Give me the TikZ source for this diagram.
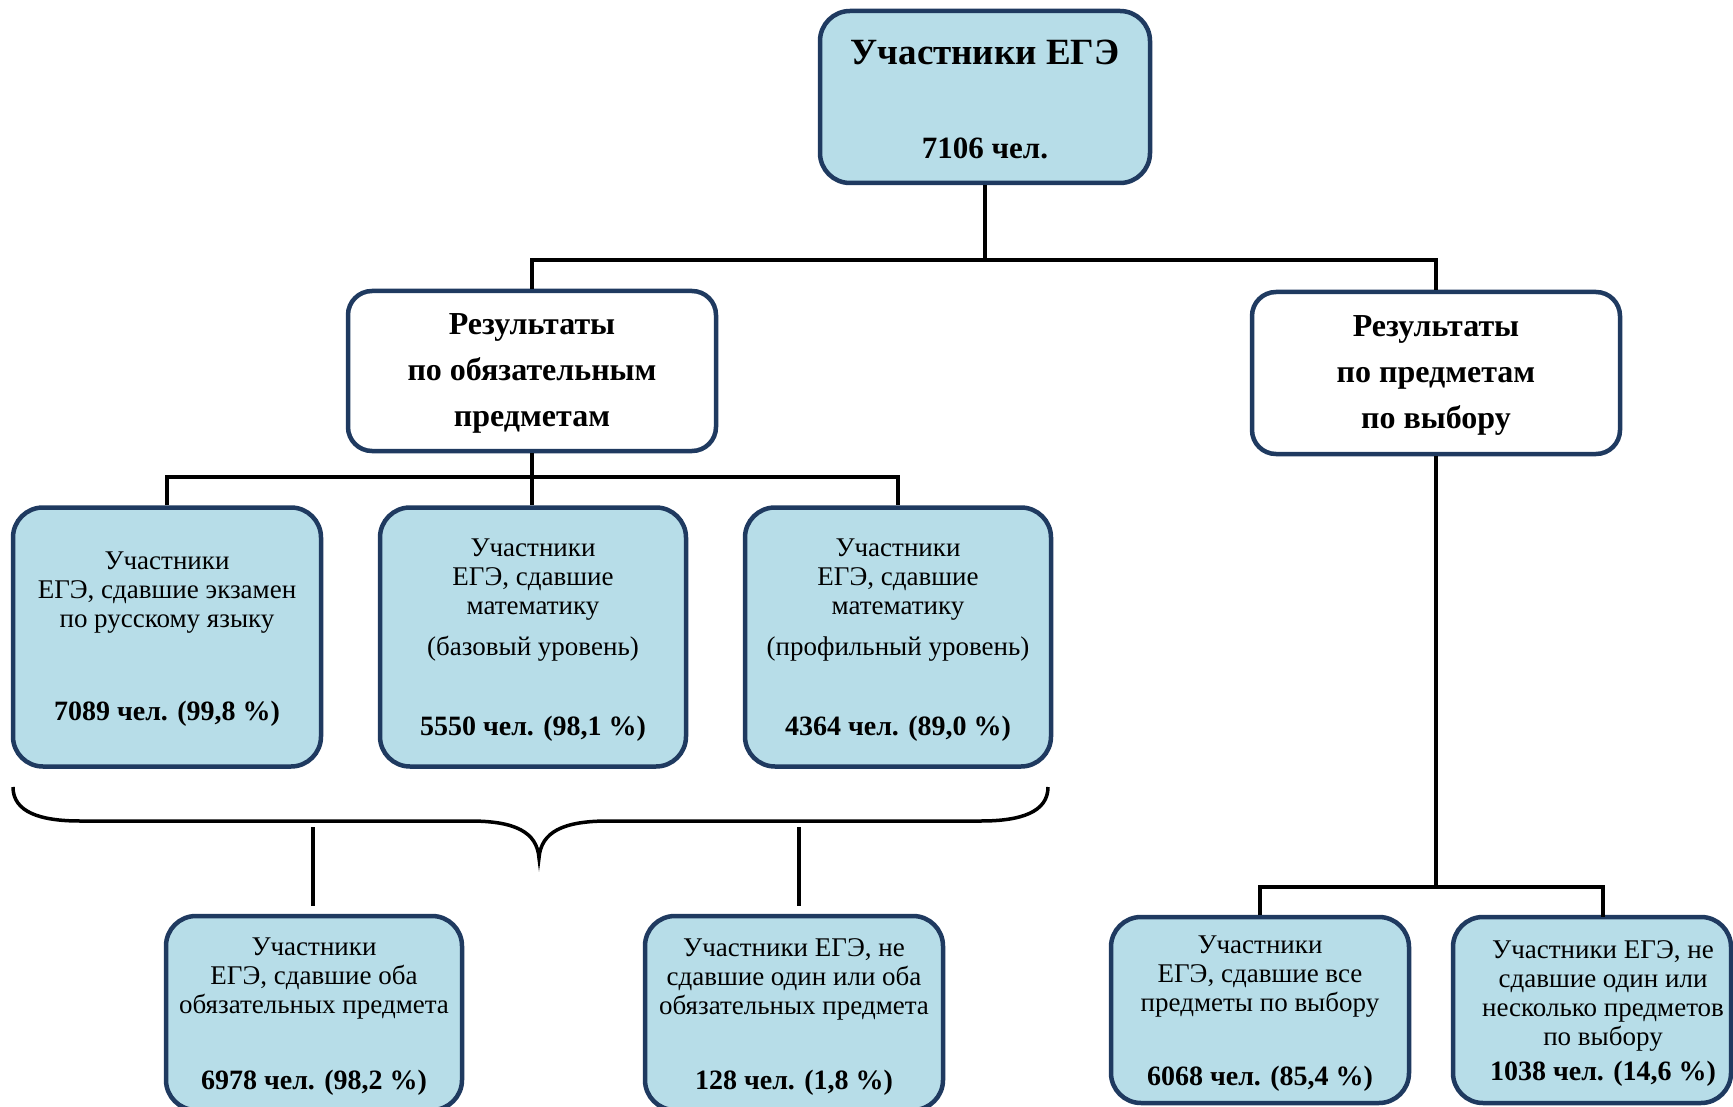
\documentclass[tikz,border=0pt]{standalone}
\usepackage{fontspec}
\setmainfont{Liberation Serif}
\definecolor{boxfill}{HTML}{B7DDE8}
\definecolor{boxline}{HTML}{1F3A60}
\tikzset{
  bluebox/.style={draw=boxline, line width=4.5pt, fill=boxfill, rounded corners=30pt, inner sep=0pt},
  whitebox/.style={draw=boxline, line width=4.5pt, fill=white, rounded corners=24pt, inner sep=0pt},
  link/.style={line width=4.2pt, draw=black},
  bracelink/.style={line width=3.5pt, draw=black},
  txt/.style={align=center, font=\fontsize{27}{29}\selectfont, inner sep=0pt, yshift=-4pt},
  num/.style={font=\fontsize{28}{30}\selectfont\bfseries, inner sep=0pt, yshift=-4pt},
  head/.style={align=center, font=\fontsize{32}{46}\selectfont\bfseries, inner sep=0pt, yshift=-3pt},
}
\begin{document}
\begin{tikzpicture}[x=1pt,y=-1pt]
\useasboundingbox (0,0) rectangle (1733,1107);
\clip (0,0) rectangle (1733,1107);

% boxes
\node[bluebox, minimum width=330pt, minimum height=172pt] (top) at (985,97) {};
\node[whitebox, minimum width=368pt, minimum height=160pt] (midL) at (532,371) {};
\node[whitebox, minimum width=368pt, minimum height=162pt] (midR) at (1436,373) {};
\node[bluebox, minimum width=308pt, minimum height=259pt] (b1) at (167,637) {};
\node[bluebox, minimum width=306pt, minimum height=259pt] (b2) at (533,637) {};
\node[bluebox, minimum width=306pt, minimum height=259pt] (b3) at (898,637) {};
\node[bluebox, minimum width=296pt, minimum height=194pt] (b4) at (314,1013) {};
\node[bluebox, minimum width=298pt, minimum height=194pt] (b5) at (794,1013) {};
\node[bluebox, minimum width=298pt, minimum height=186pt] (b6) at (1260,1010) {};
\node[bluebox, minimum width=278pt, minimum height=186pt] (b7) at (1592,1010) {};

% texts
\node[font=\fontsize{37}{40}\selectfont\bfseries, inner sep=0pt] (t0a) at (985,52) {Участники ЕГЭ};
\node[font=\fontsize{31}{34}\selectfont\bfseries, inner sep=0pt] (t0b) at (985,148) {7106 чел.};

\node[head] (tL) at (532,370) {Результаты\\по обязательным\\предметам};
\node[head] (tR) at (1436,372) {Результаты\\по предметам\\по выбору};

\node[txt] (t1) at (167,589) {Участники\\ЕГЭ, сдавшие экзамен\\по русскому языку};
\node[num] (n1) at (167,710) {7089 чел. (99,8 \%)};

\node[txt] (t2) at (533,576) {Участники\\ЕГЭ, сдавшие\\математику};
\node[txt] (t2b) at (533,645) {(базовый уровень)};
\node[num] (n2) at (533,725) {5550 чел. (98,1 \%)};

\node[txt] (t3) at (898,576) {Участники\\ЕГЭ, сдавшие\\математику};
\node[txt] (t3b) at (898,645) {(профильный уровень)};
\node[num] (n3) at (898,725) {4364 чел. (89,0 \%)};

\node[txt] (t4) at (314,975) {Участники\\ЕГЭ, сдавшие оба\\обязательных предмета};
\node[num] (n4) at (314,1079) {6978 чел. (98,2 \%)};

\node[txt] (t5) at (794,975) {Участники ЕГЭ, не\\сдавшие один или оба\\обязательных предмета};
\node[num] (n5) at (794,1079) {128 чел. (1,8 \%)};

\node[txt] (t6) at (1260,973) {Участники\\ЕГЭ, сдавшие все\\предметы по выбору};
\node[num] (n6) at (1260,1075) {6068 чел. (85,4 \%)};

\node[txt] (t7) at (1603,992) {Участники ЕГЭ, не\\сдавшие один или\\несколько предметов\\по выбору};
\node[num] (n7) at (1603,1070) {1038 чел. (14,6 \%)};

% connectors
\coordinate (j1) at (985,260);
\coordinate (j2) at (532,477);
\coordinate (j3) at (1436,887);
\coordinate (b7top) at (1603,917);
\draw[link] (top.south) -- (j1);
\draw[link] (midL.north) |- (j1) -| (midR.north);
\draw[link] (midL.south) -- (midL.south |- b2.north);
\draw[link] (b1.north) |- (j2) -| (b3.north);
\draw[link] (midR.south) -- (j3);
\draw[link] (b6.north) |- (j3) -| (b7top);

% brace
\draw[line width=3.5pt] (13,787) .. controls (13,812) and (40,821) .. (80,821)
  -- (470,821) .. controls (515,821) and (537,832) .. (539,858)
  .. controls (541,832) and (563,821) .. (608,821)
  -- (981,821) .. controls (1021,821) and (1048,812) .. (1048,787);

\coordinate (s1a) at (313,827);
\coordinate (s1b) at (313,906);
\coordinate (s2a) at (799,827);
\coordinate (s2b) at (799,906);
\draw[bracelink] (s1a) -- (s1b);
\draw[bracelink] (s2a) -- (s2b);
\end{tikzpicture}
\end{document}
